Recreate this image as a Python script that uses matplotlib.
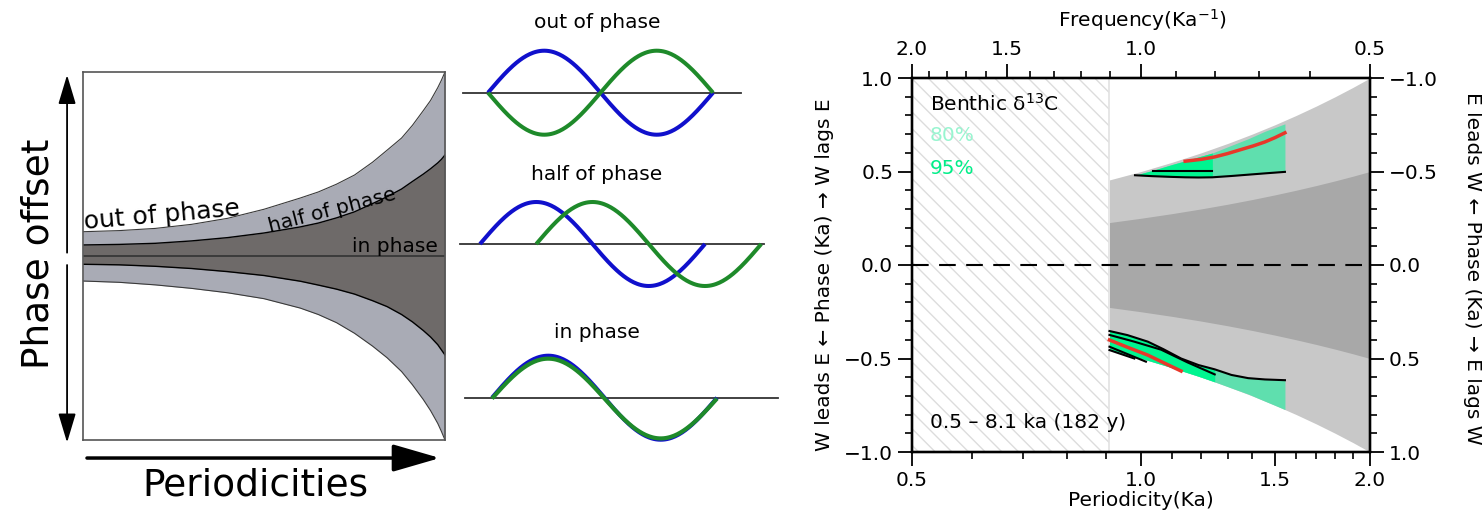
import numpy as np
import matplotlib.pyplot as plt
from matplotlib.ticker import FixedLocator, MultipleLocator, NullFormatter
from matplotlib.patches import ArrowStyle

plt.rcParams['font.family'] = ['DejaVu Sans']
plt.rcParams['hatch.color'] = '#dcdcdc'
plt.rcParams['hatch.linewidth'] = 1.0

# ---- left schematic: phase offset envelopes (x 0..1, y -1..1)
env_x = [0, 0.1, 0.2, 0.3, 0.4, 0.5, 0.6, 0.65, 0.7, 0.75, 0.8, 0.84, 0.88,
         0.91, 0.94, 0.96, 0.98, 0.99, 1.0]
outer_top = [0.132, 0.138, 0.150, 0.172, 0.205, 0.254, 0.315, 0.348, 0.390, 0.440,
             0.510, 0.575, 0.641, 0.710, 0.790, 0.845, 0.915, 0.955, 1.0]
inner_top = [0.060, 0.063, 0.069, 0.082, 0.100, 0.125, 0.158, 0.179, 0.207, 0.240,
             0.285, 0.322, 0.364, 0.405, 0.445, 0.474, 0.506, 0.525, 0.549]
inner_bot = [-0.045, -0.048, -0.056, -0.068, -0.085, -0.106, -0.137, -0.158, -0.180,
             -0.207, -0.243, -0.275, -0.318, -0.358, -0.405, -0.440, -0.482, -0.510, -0.538]
outer_bot = [-0.136, -0.143, -0.157, -0.176, -0.200, -0.232, -0.283, -0.318, -0.362,
             -0.420, -0.490, -0.553, -0.628, -0.700, -0.780, -0.840, -0.910, -0.953, -1.0]

# ---- middle sketches
sketch_titles = ['out of phase', 'half of phase', 'in phase']
green_start = [0.0, 0.25, 0.0]      # cycles
green_lag = [0.5, 0.25, 0.0]        # cycles
base_from = [-0.11, -0.09, -0.12]
base_to = [1.124, 1.262, 1.271]

# ---- right panel: phase vs periodicity
band_per = [0.909, 1.0, 1.1, 1.2, 1.3, 1.4, 1.5, 1.6, 1.7, 1.8, 1.9, 2.0]
band_outer = [0.455, 0.5, 0.55, 0.6, 0.65, 0.7, 0.75, 0.8, 0.85, 0.9, 0.95, 1.0]
band_inner = [0.227, 0.25, 0.275, 0.3, 0.325, 0.35, 0.375, 0.4, 0.425, 0.45, 0.475, 0.5]
hatch_span = [0.5, 0.909]

up_per = [0.982, 1.036, 1.10, 1.143, 1.19, 1.241, 1.315, 1.383, 1.455, 1.546]
up_low = [0.480, 0.475, 0.471, 0.469, 0.468, 0.469, 0.476, 0.483, 0.490, 0.498]
up_high = [0.480, 0.506, 0.538, 0.557, 0.578, 0.599, 0.640, 0.675, 0.715, 0.755]
up95_n = 6  # first points belong to the 95% area
up_line_per = [1.036, 1.241]
up_line_val = [0.505, 0.505]
up_red_per = [1.143, 1.2, 1.25, 1.3, 1.355, 1.405, 1.455, 1.5, 1.546]
up_red_val = [0.555, 0.565, 0.578, 0.596, 0.618, 0.637, 0.658, 0.681, 0.707]

lo_per = [0.909, 0.96, 1.021, 1.07, 1.129, 1.19, 1.25, 1.315, 1.383, 1.455, 1.546]
lo_top = [-0.353, -0.375, -0.410, -0.450, -0.500, -0.535, -0.558, -0.588, -0.605,
          -0.612, -0.616]
lo_bot = [-0.455, -0.480, -0.510, -0.535, -0.565, -0.595, -0.625, -0.658, -0.690,
          -0.728, -0.773]
lo95_n = 7
lo_lineB_per = [0.909, 0.98, 1.063, 1.15, 1.25]
lo_lineB_val = [-0.374, -0.410, -0.453, -0.520, -0.585]
lo_red_per = [0.909, 0.96, 1.021, 1.07, 1.129]
lo_red_val = [-0.401, -0.440, -0.482, -0.522, -0.567]
lo_lineC_per = [0.909, 1.015]
lo_lineC_val = [-0.437, -0.517]
lo_lineD_per = [0.909, 0.98]
lo_lineD_val = [-0.455, -0.500]

per_major = [0.5, 1.0, 1.5, 2.0]
per_minor = [0.6, 0.7, 0.8, 0.9, 1.1, 1.2, 1.3, 1.4, 1.6, 1.7, 1.8, 1.9]
freq_major = [2.0, 1.5, 1.0, 0.5]
freq_minor = [1.9, 1.8, 1.7, 1.6, 1.4, 1.3, 1.2, 1.1, 0.9, 0.8, 0.7, 0.6]

W, H = 1482, 520
fig = plt.figure(figsize=(W / 100, H / 100), dpi=100)
FS = 14.5

# ================= left panel
axL = fig.add_axes([83 / W, (H - 440) / H, 362 / W, 368 / H])
axL.fill_between(env_x, outer_bot, outer_top, color='#a9abb5', lw=0)
axL.fill_between(env_x, inner_bot, inner_top, color='#6e6a69', lw=0)
axL.plot(env_x, outer_top, color='#3a3a3a', lw=0.8)
axL.plot(env_x, outer_bot, color='#3a3a3a', lw=0.8)
axL.plot(env_x, inner_top, color='black', lw=1.0)
axL.plot(env_x, inner_bot, color='black', lw=1.0)
axL.axhline(0, color='#333333', lw=1.2)
axL.set_xlim(0, 1)
axL.set_ylim(-1, 1)
axL.set_xticks([])
axL.set_yticks([])
for s in axL.spines.values():
    s.set_color('#555555')
    s.set_linewidth(1.2)

axL.text(0.005, 0.572, 'out of phase', rotation=5, rotation_mode='anchor',
         fontsize=18, ha='left', va='baseline', transform=axL.transAxes)
axL.text(0.517, 0.566, 'half of phase', rotation=14.5, rotation_mode='anchor',
         fontsize=FS, ha='left', va='baseline', transform=axL.transAxes)
axL.text(0.981, 0.512, 'in phase', fontsize=FS, ha='right', va='baseline',
         transform=axL.transAxes)
axL.text(-0.124, 0.507, 'Phase offset', rotation=90, fontsize=27,
         ha='center', va='center', transform=axL.transAxes)
axL.text(0.475, -0.1495, 'Periodicities', fontsize=27, ha='center',
         va='baseline', transform=axL.transAxes)

st_v = ArrowStyle('-|>', head_length=1.0, head_width=0.3)
axL.annotate('', xy=(-0.044, 0.992), xytext=(-0.044, 0.509), xycoords='axes fraction',
             arrowprops=dict(arrowstyle=st_v, color='black', lw=1.3,
                             mutation_scale=18, shrinkA=0, shrinkB=0))
axL.annotate('', xy=(-0.044, -0.007), xytext=(-0.044, 0.4755), xycoords='axes fraction',
             arrowprops=dict(arrowstyle=st_v, color='black', lw=1.3,
                             mutation_scale=18, shrinkA=0, shrinkB=0))
st_h = ArrowStyle('-|>', head_length=1.0, head_width=0.29)
axL.annotate('', xy=(0.986, -0.049), xytext=(0.011, -0.049), xycoords='axes fraction',
             arrowprops=dict(arrowstyle=st_h, color='black', lw=2.5,
                             mutation_scale=29, shrinkA=0, shrinkB=0))

# ================= middle sketches
row_base = [92.7, 244, 397.7]
row_x0 = [488, 480, 492]
row_title_y = [23, 175, 333]
period_px, amp_px = 225, 42
for i in range(3):
    yb = row_base[i]
    ax = fig.add_axes([455 / W, (H - yb - 60) / H, 340 / W, 120 / H])
    ax.set_xlim((455 - row_x0[i]) / period_px, (795 - row_x0[i]) / period_px)
    ax.set_ylim(-60 / amp_px, 60 / amp_px)
    ax.axis('off')
    ax.plot([base_from[i], base_to[i]], [0, 0], color='#333333', lw=1.3)
    t = np.linspace(0, 1, 200)
    tg = t + green_start[i]
    ax.plot(t, np.sin(2 * np.pi * t), color='#1010cc', lw=2.9, solid_capstyle='butt')
    if i == 2:
        # nearly coincident curves: green drawn slightly inside the blue one
        ax.plot(tg, 0.95 * np.sin(2 * np.pi * (tg - green_lag[i])) - 0.02,
                color='#1e8a2a', lw=3.0, solid_capstyle='butt')
    else:
        ax.plot(tg, np.sin(2 * np.pi * (tg - green_lag[i])), color='#1e8a2a', lw=2.9,
                solid_capstyle='butt')
    fig.text(597 / W, 1 - row_title_y[i] / H, sketch_titles[i], fontsize=FS,
             ha='center', va='center')

# ================= right panel
axR = fig.add_axes([912 / W, (H - 452) / H, 458 / W, 374 / H])
axR.set_xscale('log')
axR.fill_between(band_per, [-v for v in band_outer], band_outer, color='#c8c8c8', lw=0)
axR.fill_between(band_per, [-v for v in band_inner], band_inner, color='#a8a8a8', lw=0)
axR.axvspan(hatch_span[0], hatch_span[1], facecolor='none', edgecolor='#dcdcdc',
            hatch='\\\\', lw=0)
axR.axvline(hatch_span[1], color='#e2e2e2', lw=1.2)

c80, c95 = '#5fdfae', '#00f590'
axR.fill_between(up_per, up_low, up_high, color=c80, lw=0)
axR.fill_between(up_per[:up95_n], up_low[:up95_n], up_high[:up95_n], color=c95, lw=0)
axR.fill_between(lo_per, lo_bot, lo_top, color=c80, lw=0)
axR.fill_between(lo_per[:lo95_n], lo_bot[:lo95_n], lo_top[:lo95_n], color=c95, lw=0)

axR.plot(up_per, up_low, color='black', lw=1.5)
axR.plot(up_line_per, up_line_val, color='black', lw=1.5)
axR.plot(lo_per, lo_top, color='black', lw=1.5)
axR.plot(lo_lineB_per, lo_lineB_val, color='black', lw=1.5)
axR.plot(lo_lineC_per, lo_lineC_val, color='black', lw=1.5)
axR.plot(lo_lineD_per, lo_lineD_val, color='black', lw=1.5)
axR.plot(up_red_per, up_red_val, color='#e8372a', lw=2.5)
axR.plot(lo_red_per, lo_red_val, color='#e8372a', lw=2.5)

axR.axhline(0, color='black', lw=1.5, dashes=(8, 5))

axR.set_xlim(0.5, 2.0)
axR.set_ylim(-1, 1)
axR.xaxis.set_major_locator(FixedLocator(per_major))
axR.set_xticklabels(['%.1f' % p for p in per_major])
axR.xaxis.set_minor_locator(FixedLocator(per_minor))
axR.xaxis.set_minor_formatter(NullFormatter())
axR.set_yticks([-1, -0.5, 0, 0.5, 1])
axR.yaxis.set_minor_locator(MultipleLocator(0.1))

axR.text(0.039, 0.93, 'Benthic δ$^{13}$C', fontsize=FS, ha='left', va='center',
         transform=axR.transAxes)
axR.text(0.039, 0.845, '80%', fontsize=FS, color='#98f5d0', ha='left', va='center',
         transform=axR.transAxes)
axR.text(0.039, 0.757, '95%', fontsize=FS, color='#00ee88', ha='left', va='center',
         transform=axR.transAxes)
axR.text(0.039, 0.08, '0.5 – 8.1 ka (182 y)', fontsize=FS, ha='left', va='center',
         transform=axR.transAxes)

axR.set_xlabel('Periodicity(Ka)', fontsize=FS)
axR.xaxis.set_label_coords(0.5, -0.1046)
axR.set_ylabel('W leads E ← Phase (Ka) → W lags E', fontsize=FS)
axR.yaxis.set_label_coords(-0.170, 0.475)

axT = axR.twiny()
axT.set_xscale('log')
axT.set_xlim(0.5, 2.0)
axT.xaxis.set_major_locator(FixedLocator([1 / f for f in freq_major]))
axT.set_xticklabels(['%.1f' % f for f in freq_major])
axT.xaxis.set_minor_locator(FixedLocator([1 / f for f in freq_minor]))
axT.xaxis.set_minor_formatter(NullFormatter())
axT.set_xlabel('Frequency(Ka$^{-1}$)', fontsize=FS)
axT.xaxis.set_label_coords(0.504, 1.137)

axRR = axR.twinx()
axRR.set_ylim(1, -1)
axRR.set_yticks([-1, -0.5, 0, 0.5, 1])
axRR.yaxis.set_minor_locator(MultipleLocator(0.1))
axRR.set_ylabel('E leads W ← Phase (Ka) → E lags W', fontsize=FS, rotation=270,
                va='bottom')
axRR.yaxis.set_label_coords(1.203, 0.49)

for a in (axR, axT, axRR):
    a.tick_params(which='major', direction='out', length=10, width=1.3,
                  labelsize=FS)
    a.tick_params(which='minor', direction='out', length=5, width=1.2)
    for s in a.spines.values():
        s.set_linewidth(1.6)

fig.savefig('out.png', dpi=100)
